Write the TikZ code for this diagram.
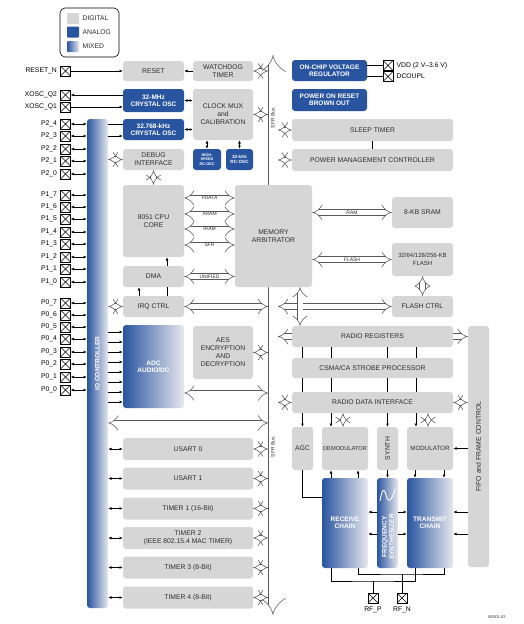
\documentclass[tikz,border=0pt]{standalone}
\usepackage{fontspec}
\setmainfont{Liberation Sans}
\usepackage{tikz}
\usetikzlibrary{arrows.meta, positioning}
\definecolor{digigray}{RGB}{214,214,214}
\definecolor{anablue}{RGB}{40,84,160}
\definecolor{mixlight}{RGB}{232,232,238}
\definecolor{boxtext}{RGB}{45,45,45}

\begin{document}
\begin{tikzpicture}[x=1pt, y=-1pt, line width=0.6pt, >={Latex[length=3.2pt,width=2.8pt]}, label distance=3pt,
		every node/.style={font=\fontsize{6.8}{7.9}\selectfont, align=center, inner sep=0pt},
		digital/.style={fill=digigray, text=boxtext, rounded corners=3pt},
		analog/.style={fill=anablue, text=white, rounded corners=3pt, font=\fontsize{6.5}{7.4}\selectfont\bfseries},
		mixed/.style={left color=anablue, right color=mixlight, text=white, rounded corners=3pt, font=\fontsize{6.5}{7.4}\selectfont\bfseries},
		whitetext/.style={rotate=90, text=white, font=\fontsize{6.5}{7.4}\selectfont\bfseries},
		pin/.style={draw, fill=white, minimum size=10, path picture={\draw[line width=0.5pt] (path picture bounding box.south west) -- (path picture bounding box.north east) (path picture bounding box.north west) -- (path picture bounding box.south east);}},
		hollow/.style={draw=black!65, line width=0.55pt, double=white, double distance=5pt, arrows={Implies-Implies}},
		hollowto/.style={hollow, arrows={-Implies}},
		tag/.style={font=\fontsize{5}{5}\selectfont, text=boxtext}]
	\path[use as bounding box, fill=white] (0,0) rectangle (523,624);

	\coordinate (busL) at (268,0);
	\coordinate (busR) at (278,0);
	\coordinate (busT) at (273,55);
	\coordinate (busB) at (273,615);
	\draw[hollow, double distance=9pt] (busT) -- (busB);
	\node[tag, rotate=90] (sfrtop) at (273,118) {SFR Bus};
	\node[tag, rotate=90] (sfrlow) at (273,447) {SFR Bus};

	\path node[draw, rounded corners=5pt, minimum width=59, minimum height=49] (legend) at (89.5,32.5) {}
		node[digital, rounded corners=1pt, minimum width=12, minimum height=11, label={[text=boxtext]right:DIGITAL}] (keydig) at (73,18.5) {}
		node[analog, rounded corners=1pt, minimum width=12, minimum height=11, label={[text=boxtext]right:ANALOG}] (keyana) at (73,32) {}
		node[mixed, rounded corners=1pt, minimum width=12, minimum height=11, label={[text=boxtext]right:MIXED}] (keymix) at (73,46.5) {};

	\path node[digital, minimum width=61, minimum height=20] (reset) at (153.5,71) {RESET}
		node[digital, minimum width=60, minimum height=20] (wdt) at (223,71) {WATCHDOG\\TIMER}
		node[analog, minimum width=61, minimum height=23] (xosc32m) at (153.5,100.5) {32-MHz\\CRYSTAL OSC}
		node[analog, minimum width=61, minimum height=21] (xosc32k) at (153.5,129.5) {32.768-kHz\\CRYSTAL OSC}
		node[digital, minimum width=60, minimum height=51] (clkmux) at (223,114.5) {CLOCK MUX\\and\\CALIBRATION}
		node[analog, minimum width=28, minimum height=21, font=\fontsize{3.8}{4.3}\selectfont\bfseries] (hsrc) at (207,159.5) {HIGH-\\SPEED\\RC-OSC}
		node[analog, minimum width=27, minimum height=21, font=\fontsize{4.6}{5.4}\selectfont\bfseries] (lfrc) at (239.5,159.5) {32-kHz\\RC-OSC}
		node[digital, minimum width=61, minimum height=21] (debug) at (153.5,159.5) {DEBUG\\INTERFACE}
		node[digital, minimum width=61, minimum height=72] (cpu) at (153.5,221) {8051 CPU\\CORE}
		node[digital, minimum width=61, minimum height=21] (dma) at (153.5,276.5) {DMA}
		node[digital, minimum width=61, minimum height=21] (irq) at (153.5,306.5) {IRQ CTRL}
		node[mixed, minimum width=61, minimum height=83] (adc) at (153.5,366.5) {ADC\\AUDIO/DC}
		node[digital, minimum width=60, minimum height=53] (aes) at (223,352.5) {AES\\ENCRYPTION\\AND\\DECRYPTION}
		node[digital, minimum width=130, minimum height=22] (usart0) at (188,449) {USART 0}
		node[digital, minimum width=130, minimum height=22] (usart1) at (188,478.5) {USART 1}
		node[digital, minimum width=130, minimum height=22] (timer1) at (188,508.5) {TIMER 1 (16-Bit)}
		node[digital, minimum width=130, minimum height=22] (timer2) at (188,538) {TIMER 2\\(IEEE 802.15.4 MAC TIMER)}
		node[digital, minimum width=130, minimum height=22] (timer3) at (188,567.5) {TIMER 3 (8-Bit)}
		node[digital, minimum width=130, minimum height=22] (timer4) at (188,597.5) {TIMER 4 (8-Bit)}
		node[mixed, minimum width=21, minimum height=489, label={[whitetext]center:IO CONTROLLER}] (io) at (97.5,363.5) {};

	\path node[digital, minimum width=77, minimum height=102] (memarb) at (273.5,236) {MEMORY\\ARBITRATOR}
		node[digital, minimum width=61, minimum height=31] (sram) at (422.5,212.5) {8-KB SRAM}
		node[digital, minimum width=61, minimum height=33, font=\fontsize{6}{7.4}\selectfont] (flash) at (422.5,259.5) {32/64/128/256-KB\\FLASH}
		node[digital, minimum width=61, minimum height=21] (flashctrl) at (422.5,306.5) {FLASH CTRL}
		node[analog, minimum width=75, minimum height=21] (vreg) at (329.5,70.5) {ON-CHIP VOLTAGE\\REGULATOR}
		node[analog, minimum width=75, minimum height=22] (por) at (329.5,100) {POWER ON RESET\\BROWN OUT}
		node[digital, minimum width=161, minimum height=22] (sleep) at (372.5,130) {SLEEP TIMER}
		node[digital, minimum width=161, minimum height=22] (pmc) at (372.5,160) {POWER MANAGEMENT CONTROLLER}
		node[digital, minimum width=161, minimum height=21] (radioreg) at (372.5,336.5) {RADIO REGISTERS}
		node[digital, minimum width=161, minimum height=20] (csma) at (372.5,368) {CSMA/CA STROBE PROCESSOR}
		node[digital, minimum width=161, minimum height=21] (rdi) at (372.5,402.5) {RADIO DATA INTERFACE}
		node[digital, minimum width=21, minimum height=241, label={[rotate=90, text=boxtext]center:FIFO and FRAME CONTROL}] (fifo) at (478.5,446.5) {}
		node[digital, minimum width=21, minimum height=43] (agc) at (302.5,448.5) {AGC}
		node[digital, minimum width=46, minimum height=43, font=\fontsize{5.7}{7}\selectfont] (demod) at (345,448.5) {DEMODULATOR}
		node[digital, minimum width=21, minimum height=43, label={[rotate=90, text=boxtext]center:SYNTH}] (synth) at (387.5,448.5) {}
		node[digital, minimum width=46, minimum height=43, font=\fontsize{6.2}{7}\selectfont] (mod) at (430,448.5) {MODULATOR}
		node[mixed, minimum width=46, minimum height=90] (rxchain) at (345,523) {RECEIVE\\CHAIN}
		node[mixed, minimum width=21, minimum height=90] (fsynth) at (387.5,523) {}
		node[mixed, minimum width=46, minimum height=90] (txchain) at (430,523) {TRANSMIT\\CHAIN};
	\node[whitetext] (fsynthtext) at (388,537) {FREQUENCY\\SYNTHESIZER};
	\draw[white, line width=0.9pt] (380,501) .. controls (382,489) and (384,487) .. (386,495) .. controls (388,503) and (391,503) .. (395,489);

	\path node[pin, label={left:RESET\_N}] (rstn) at (65.5,71) {}
		node[pin, label={left:XOSC\_Q2}] (xq2) at (65.5,95) {}
		node[pin, label={left:XOSC\_Q1}] (xq1) at (65.5,107) {}
		node[pin, label={left:P2\_4}] (p24) at (65.5,124) {}
		node[pin, label={left:P2\_3}] (p23) at (65.5,136) {}
		node[pin, label={left:P2\_2}] (p22) at (65.5,149) {}
		node[pin, label={left:P2\_1}] (p21) at (65.5,161) {}
		node[pin, label={left:P2\_0}] (p20) at (65.5,174) {}
		node[pin, label={left:P1\_7}] (p17) at (65.5,195) {}
		node[pin, label={left:P1\_6}] (p16) at (65.5,207) {}
		node[pin, label={left:P1\_5}] (p15) at (65.5,219) {}
		node[pin, label={left:P1\_4}] (p14) at (65.5,232) {}
		node[pin, label={left:P1\_3}] (p13) at (65.5,244) {}
		node[pin, label={left:P1\_2}] (p12) at (65.5,257) {}
		node[pin, label={left:P1\_1}] (p11) at (65.5,269) {}
		node[pin, label={left:P1\_0}] (p10) at (65.5,282) {}
		node[pin, label={left:P0\_7}] (p07) at (65.5,303) {}
		node[pin, label={left:P0\_6}] (p06) at (65.5,315) {}
		node[pin, label={left:P0\_5}] (p05) at (65.5,327) {}
		node[pin, label={left:P0\_4}] (p04) at (65.5,339) {}
		node[pin, label={left:P0\_3}] (p03) at (65.5,352) {}
		node[pin, label={left:P0\_2}] (p02) at (65.5,364) {}
		node[pin, label={left:P0\_1}] (p01) at (65.5,377) {}
		node[pin, label={left:P0\_0}] (p00) at (65.5,390) {}
		node[pin, label={right:VDD (2 V--3.6 V)}] (vdd) at (388,65.5) {}
		node[pin, label={right:DCOUPL}] (dcoupl) at (388,76.5) {}
		node[pin, label={below:RF\_P}] (rfp) at (373,598) {}
		node[pin, label={below:RF\_N}] (rfn) at (402,598) {};
	\node[tag, font=\fontsize{4}{4}\selectfont] (docid) at (497,617) {B0301-02};

	\draw [->] (rstn.east) -- (reset.west);
	\draw [->] (wdt.west) -- (reset.east);
	\draw [<-] (xq2.east) -- (xq2.east -| xosc32m.west);
	\draw [->] (xq1.east) -- (xq1.east -| xosc32m.west);
	\draw (io.east |- p24) -- (xosc32k.west |- p24);
	\draw [->] (io.east |- p23) -- (xosc32k.west |- p23);
	\draw [<->] (xosc32m.east) -- (clkmux.west |- xosc32m.east);
	\draw [<->] (xosc32k.east) -- (clkmux.west |- xosc32k.east);
	\draw [<->] (hsrc.north) -- (hsrc.north |- clkmux.south);
	\draw [<->] (lfrc.north) -- (lfrc.north |- clkmux.south);

	\draw [<->] (p24.east) -- (p24.east -| io.west);
	\draw [<->] (p23.east) -- (p23.east -| io.west);
	\draw [<->] (p22.east) -- (p22.east -| io.west);
	\draw [<->] (p21.east) -- (p21.east -| io.west);
	\draw [<->] (p20.east) -- (p20.east -| io.west);
	\draw [<->] (p17.east) -- (p17.east -| io.west);
	\draw [<->] (p16.east) -- (p16.east -| io.west);
	\draw [<->] (p15.east) -- (p15.east -| io.west);
	\draw [<->] (p14.east) -- (p14.east -| io.west);
	\draw [<->] (p13.east) -- (p13.east -| io.west);
	\draw [<->] (p12.east) -- (p12.east -| io.west);
	\draw [<->] (p11.east) -- (p11.east -| io.west);
	\draw [<->] (p10.east) -- (p10.east -| io.west);
	\draw [<->] (p07.east) -- (p07.east -| io.west);
	\draw [<->] (p06.east) -- (p06.east -| io.west);
	\draw [<->] (p05.east) -- (p05.east -| io.west);
	\draw [<->] (p04.east) -- (p04.east -| io.west);
	\draw [<->] (p03.east) -- (p03.east -| io.west);
	\draw [<->] (p02.east) -- (p02.east -| io.west);
	\draw [<->] (p01.east) -- (p01.east -| io.west);
	\draw [<->] (p00.east) -- (p00.east -| io.west);

	\draw [hollow] (wdt.east) -- (wdt.east -| busL);
	\draw [hollow] (clkmux.east) -- (clkmux.east -| busL);
	\draw [hollow] (io.east |- debug.west) -- (debug.west);
	\draw [hollow] (debug.south) -- (cpu.north);
	\draw [hollow] (cpu.east |- 0,198) -- (memarb.west |- 0,198) node[midway, tag] {PDATA};
	\draw [hollow] (cpu.east |- 0,214) -- (memarb.west |- 0,214) node[midway, tag] {XRAM};
	\draw [hollow] (cpu.east |- 0,229) -- (memarb.west |- 0,229) node[midway, tag] {IRAM};
	\draw [hollow] (cpu.east |- 0,245) -- (memarb.west |- 0,245) node[midway, tag] {SFR};
	\draw [hollow] (dma.east) -- (dma.east -| memarb.west) node[midway, tag] {UNIFIED};
	\draw [->] (167,0 |- dma.north) -- (167,0 |- cpu.south);
	\draw [->] (139,0 |- irq.north) -- (139,0 |- dma.south);
	\draw (167,0 |- irq.north) -- (167,0 |- dma.south);
	\draw [hollow] (io.east |- irq.west) -- (irq.west);
	\draw [hollow] (irq.east) -- (irq.east -| busL);
	\draw [->] (io.east |- 0,332) -- (adc.west |- 0,332);
	\draw [->] (io.east |- 0,342) -- (adc.west |- 0,342);
	\draw [->] (io.east |- 0,352) -- (adc.west |- 0,352);
	\draw [->] (io.east |- 0,362) -- (adc.west |- 0,362);
	\draw [->] (io.east |- 0,372) -- (adc.west |- 0,372);
	\draw [->] (io.east |- 0,382) -- (adc.west |- 0,382);
	\draw [->] (io.east |- 0,392) -- (adc.west |- 0,392);
	\draw [->] (io.east |- 0,402) -- (adc.west |- 0,402);
	\draw [hollow] (aes.east) -- (aes.east -| busL);
	\draw [hollow] (adc.east |- 0,393) -- (busL |- 0,393);
	\draw [hollow] (io.east |- 0,423) -- (busL |- 0,423);
	\draw [<->] (io.east |- usart0.west) -- (usart0.west);
	\draw [<->] (io.east |- usart1.west) -- (usart1.west);
	\draw [<->] (io.east |- timer1.west) -- (timer1.west);
	\draw [<->] (io.east |- timer2.west) -- (timer2.west);
	\draw [<->] (io.east |- timer3.west) -- (timer3.west);
	\draw [<->] (io.east |- timer4.west) -- (timer4.west);
	\draw [hollow] (usart0.east) -- (usart0.east -| busL);
	\draw [hollow] (usart1.east) -- (usart1.east -| busL);
	\draw [hollow] (timer1.east) -- (timer1.east -| busL);
	\draw [hollow] (timer2.east) -- (timer2.east -| busL);
	\draw [hollow] (timer3.east) -- (timer3.east -| busL);
	\draw [hollow] (timer4.east) -- (timer4.east -| busL);

	\draw (vreg.east |- vdd) -- (vdd.west);
	\draw (vreg.east |- dcoupl) -- (dcoupl.west);
	\draw [hollow] (busR |- sleep.west) -- (sleep.west);
	\draw [hollow] (busR |- pmc.west) -- (pmc.west);
	\draw (sleep.south) -- (pmc.north);
	\draw [hollow] (memarb.east |- sram.west) -- (sram.west) node[midway, tag] {RAM};
	\draw [hollow] (memarb.east |- flash.west) -- (flash.west) node[midway, tag] {FLASH};
	\draw [hollow] (flash.south) -- (flashctrl.north);
	\draw [hollow] (busR |- flashctrl.west) -- (flashctrl.west);
	\draw [hollow] (300,0 |- memarb.south) -- (300,0 |- radioreg.north);
	\draw [hollowto] (radioreg.west) -- (radioreg.west -| busR);
	\draw [hollowto] (radioreg.east) -- (radioreg.east -| fifo.west);
	\draw [hollow] (rdi.west) -- (rdi.west -| busR);
	\draw [hollow] (rdi.east) -- (rdi.east -| fifo.west);

	\draw (agc.north |- radioreg.south) -- (agc.north |- csma.north) (agc.north |- csma.south) -- (agc.north |- rdi.north);
	\draw (331,0 |- radioreg.south) -- (331,0 |- csma.north) (331,0 |- csma.south) -- (331,0 |- rdi.north);
	\draw (synth.north |- radioreg.south) -- (synth.north |- csma.north) (synth.north |- csma.south) -- (synth.north |- rdi.north);
	\draw (416,0 |- radioreg.south) -- (416,0 |- csma.north) (416,0 |- csma.south) -- (416,0 |- rdi.north);
	\draw [->] (agc.north |- rdi.south) -- (agc.north);
	\draw [->] (331,0 |- rdi.south) -- (331,0 |- demod.north);
	\draw [->] (synth.north |- rdi.south) -- (synth.north);
	\draw [->] (416,0 |- rdi.south) -- (416,0 |- mod.north);
	\draw [hollow] (343,0 |- rdi.south) -- (343,0 |- demod.north);
	\draw [hollow] (428,0 |- rdi.south) -- (428,0 |- mod.north);

	\draw [->] (fifo.west |- mod.east) -- (mod.east);
	\draw [->] (fifo.west |- 0,512) -- (txchain.east |- 0,512);
	\draw [->] (fifo.west |- 0,534) -- (txchain.east |- 0,534);
	\draw [->] (fsynth.west |- 0,512) -- (rxchain.east |- 0,512);
	\draw [->] (fsynth.west |- 0,534) -- (rxchain.east |- 0,534);
	\draw [->] (fsynth.east |- 0,512) -- (txchain.west |- 0,512);
	\draw [->] (fsynth.east |- 0,534) -- (txchain.west |- 0,534);
	\draw [->] (331,0 |- rxchain.north) -- (331,0 |- demod.south);
	\draw [->] (358,0 |- rxchain.north) -- (358,0 |- demod.south);
	\draw [->] (synth.south) -- (fsynth.north);
	\draw [->] (415,0 |- mod.south) -- (415,0 |- txchain.north);
	\draw [->] (444,0 |- mod.south) -- (444,0 |- txchain.north);
	\draw (agc.south) |- (rxchain.west |- 0,497);

	\coordinate (rfpjoin) at (373,581);
	\coordinate (rfnjoin) at (402,574);
	\draw (331,0 |- rxchain.south) |- (rfpjoin) -| (415,0 |- txchain.south);
	\draw (358,0 |- rxchain.south) |- (rfnjoin) -| (444,0 |- txchain.south);
	\draw (rfp.north) -- (rfpjoin);
	\draw (rfn.north) -- (rfnjoin);
\end{tikzpicture}
\end{document}
